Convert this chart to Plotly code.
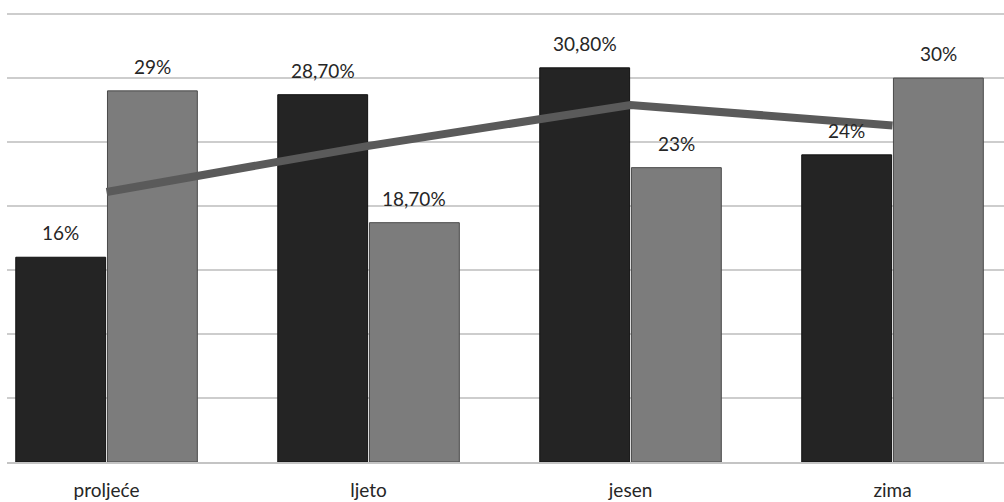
import plotly.graph_objects as go

seasons = ["proljeće", "ljeto", "jesen", "zima"]
series_a = [16, 28.7, 30.8, 24]
series_b = [29, 18.7, 23, 30]
labels_a = ["16%", "28,70%", "30,80%", "24%"]
labels_b = ["29%", "18,70%", "23%", "30%"]
trend = [21.1, 24.7, 27.9, 26.3]

font_family = "Lato, 'Open Sans', sans-serif"

fig = go.Figure()
fig.add_trace(go.Bar(
    x=seasons, y=series_a, offsetgroup="a",
    marker=dict(color="#242424", line=dict(color="#111111", width=1)),
    showlegend=False,
))
fig.add_trace(go.Bar(
    x=seasons, y=series_b, offsetgroup="b",
    marker=dict(color="#7c7c7c", line=dict(color="#4a4a4a", width=1)),
    showlegend=False,
))
fig.add_trace(go.Scatter(
    x=seasons, y=trend, mode="lines",
    line=dict(color="#5a5a5a", width=8),
    showlegend=False,
))

fig.update_layout(
    width=1004, height=502,
    margin=dict(l=7, r=0, t=0, b=40),
    paper_bgcolor="white", plot_bgcolor="white",
    barmode="group", bargap=0.30, bargroupgap=0.02,
    font=dict(family=font_family, size=19, color="#262626"),
)

# value labels above the bars (left bar / right bar of each group)
for i, s in enumerate(seasons):
    for vals, labs, shift in ((series_a, labels_a, -0.175), (series_b, labels_b, 0.175)):
        fig.add_annotation(
            x=i + shift, y=vals[i], text=labs[i], showarrow=False,
            xref="x", yref="y", yanchor="bottom", yshift=11,
            font=dict(family=font_family, size=19, color="#262626"),
        )

fig.update_xaxes(
    range=[-0.38, 3.4255], showgrid=False,
    showline=True, linecolor="#c4c4c4", linewidth=2,
    ticks="outside", ticklen=10, tickcolor="white",
    tickfont=dict(family=font_family, size=19, color="#262626"),
)
fig.update_yaxes(
    range=[0, 36.1], dtick=5, showticklabels=False,
    showgrid=True, gridcolor="#cdcdcd", gridwidth=2,
    zeroline=False,
)

fig.write_html("out.html", config={"displayModeBar": False},
               post_script="document.body.style.margin='0';")
